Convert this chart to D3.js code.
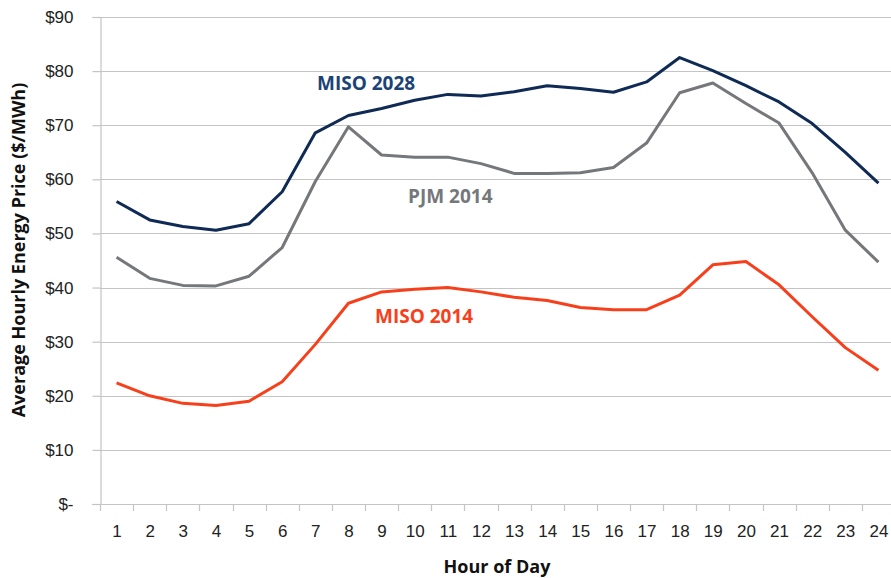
<!DOCTYPE html>
<html>
<head>
<meta charset="utf-8">
<script src="https://cdn.jsdelivr.net/npm/d3@7"></script>
<style>
  body { margin: 0; background: #fff; }
  svg { display: block; font-family: 'Open Sans', sans-serif; }
</style>
</head>
<body>
<svg id="chart"></svg>
<script>
// Hours on the x axis
const hours = d3.range(1, 25).map(String);

// Average hourly energy price ($/MWh)
const miso2028 = [55.9, 52.5, 51.3, 50.6, 51.8, 57.7, 68.6, 71.8, 73.1, 74.6, 75.7, 75.4,
  76.2, 77.3, 76.8, 76.1, 78.0, 82.5, 80.1, 77.3, 74.3, 70.3, 65.0, 59.3];
const pjm2014 = [45.6, 41.7, 40.4, 40.3, 42.1, 47.4, 59.6, 69.7, 64.5, 64.1, 64.1, 62.9,
  61.1, 61.1, 61.2, 62.2, 66.7, 76.0, 77.8, 74.0, 70.4, 61.2, 50.6, 44.7];
const miso2014 = [22.4, 20.0, 18.6, 18.2, 19.0, 22.6, 29.5, 37.1, 39.2, 39.7, 40.0, 39.2,
  38.2, 37.6, 36.3, 35.9, 35.9, 38.6, 44.2, 44.8, 40.5, 34.6, 28.9, 24.7];

const yTicks = [0, 10, 20, 30, 40, 50, 60, 70, 80, 90];

const series = [
  { name: 'MISO 2028', values: miso2028, color: '#0e2a55', label: '#1b4376', lx: 317, ly: 90 },
  { name: 'PJM 2014', values: pjm2014, color: '#75777b', label: '#75777b', lx: 408, ly: 203 },
  { name: 'MISO 2014', values: miso2014, color: '#f7401b', label: '#f7401b', lx: 375, ly: 323 }
];

const width = 891, height = 578;
const margin = { top: 17, right: -4, bottom: 74, left: 100 };

const svg = d3.select('#chart')
  .attr('width', width)
  .attr('height', height);

const x = d3.scalePoint()
  .domain(hours)
  .range([margin.left, width - margin.right])
  .padding(0.5);

const step = x.step();

const y = d3.scaleLinear()
  .domain([0, 90])
  .range([height - margin.bottom, margin.top]);

// Grid lines
svg.append('g')
  .selectAll('line')
  .data(yTicks.filter(d => d > 0))
  .join('line')
  .attr('x1', margin.left)
  .attr('x2', width)
  .attr('y1', d => Math.round(y(d)) + 0.5)
  .attr('y2', d => Math.round(y(d)) + 0.5)
  .attr('stroke', '#c4c4c4')
  .attr('stroke-width', 1.2);

// Y axis
const yAxis = svg.append('g')
  .attr('transform', `translate(${margin.left + 0.5},0)`)
  .call(d3.axisLeft(y)
    .tickValues(yTicks)
    .tickSize(8)
    .tickPadding(19)
    .tickFormat(d => d === 0 ? '$-' : '$' + d));

yAxis.select('.domain').attr('stroke', '#c4c4c4').attr('stroke-width', 1.2);
yAxis.selectAll('.tick line').attr('stroke', '#c4c4c4').attr('stroke-width', 1.2);
yAxis.selectAll('.tick text')
  .style('font-size', '17px')
  .style('fill', '#222');

// X axis
const xAxis = svg.append('g')
  .attr('transform', `translate(0,${Math.round(y(0)) + 0.5})`)
  .call(d3.axisBottom(x).tickSize(0).tickPadding(20));

xAxis.select('.domain').remove();
xAxis.selectAll('.tick text')
  .style('font-size', '17px')
  .style('fill', '#222');

svg.append('line')
  .attr('x1', margin.left - 8)
  .attr('x2', width)
  .attr('y1', Math.round(y(0)) + 0.5)
  .attr('y2', Math.round(y(0)) + 0.5)
  .attr('stroke', '#c4c4c4')
  .attr('stroke-width', 1.2);

// category separators below the axis
svg.append('g')
  .selectAll('line')
  .data(hours)
  .join('line')
  .attr('x1', d => Math.round(x(d) - step / 2) + 0.5)
  .attr('x2', d => Math.round(x(d) - step / 2) + 0.5)
  .attr('y1', Math.round(y(0)))
  .attr('y2', Math.round(y(0)) + 7)
  .attr('stroke', '#c4c4c4')
  .attr('stroke-width', 1.2);

// Lines
const line = d3.line()
  .x((d, i) => x(hours[i]))
  .y(d => y(d));

svg.append('g')
  .selectAll('path')
  .data(series)
  .join('path')
  .attr('fill', 'none')
  .attr('stroke', d => d.color)
  .attr('stroke-width', 3)
  .attr('stroke-linejoin', 'round')
  .attr('d', d => line(d.values));

// Series labels
svg.append('g')
  .selectAll('text')
  .data(series)
  .join('text')
  .attr('x', d => d.lx)
  .attr('y', d => d.ly)
  .style('font-size', '19px')
  .style('font-weight', '700')
  .style('fill', d => d.label)
  .text(d => d.name);

// Axis titles
svg.append('text')
  .attr('transform', `translate(25,250) rotate(-90)`)
  .attr('text-anchor', 'middle')
  .style('font-size', '18px')
  .style('font-weight', '700')
  .style('fill', '#111')
  .text('Average Hourly Energy Price ($/MWh)');

svg.append('text')
  .attr('x', 497)
  .attr('y', 573)
  .attr('text-anchor', 'middle')
  .style('font-size', '18px')
  .style('font-weight', '700')
  .style('fill', '#111')
  .text('Hour of Day');
</script>
</body>
</html>
